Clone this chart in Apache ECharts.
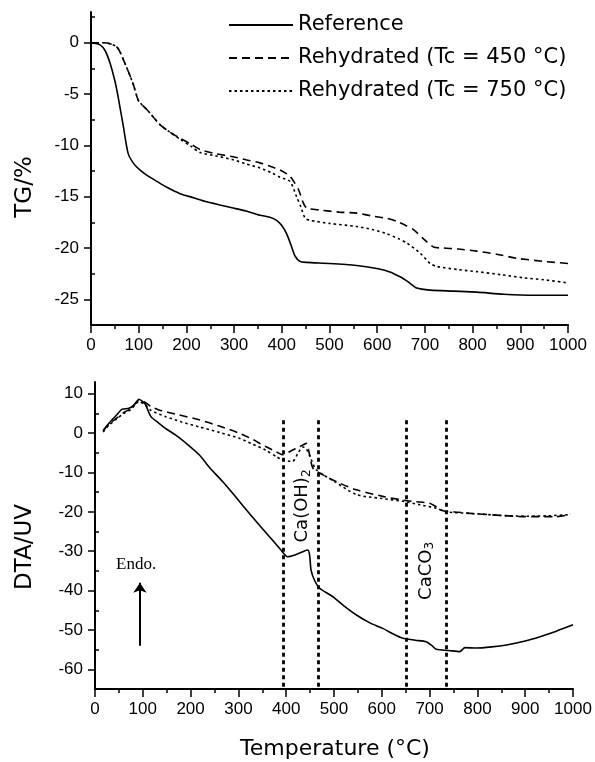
<!DOCTYPE html>
<html lang="en">
<head>
    <meta charset="UTF-8">
    <title>TG / DTA</title>
    <script src="https://cdn.jsdelivr.net/npm/echarts@6.0.0/dist/echarts.min.js"></script>
</head>
<body style="margin:0;background:#fff">
<div id="main" style="width: 595px;height: 762px"></div>
<script>
    // legend names
    var names = ['Reference', 'Rehydrated (Tc = 450 °C)', 'Rehydrated (Tc = 750 °C)'];

    // TG curves, [temperature, TG %]
    var tgRef = [[0, 0], [19, -0.2], [30, -0.8], [40, -2], [50, -3.7], [57, -5.3], [68, -8.2], [78, -10.8], [90, -11.8], [103, -12.4],
        [120, -13.0], [138, -13.5], [160, -14.1], [187, -14.7], [215, -15.1], [243, -15.5], [270, -15.8], [298, -16.1], [325, -16.4],
        [354, -16.8], [375, -17.0], [389, -17.3], [400, -17.8], [410, -18.6], [420, -19.8], [428, -20.8], [438, -21.3], [452, -21.4],
        [500, -21.5], [557, -21.7], [599, -22.0], [625, -22.3], [648, -22.8], [665, -23.3], [683, -23.9], [711, -24.1], [760, -24.2],
        [809, -24.3], [865, -24.5], [930, -24.6], [1000, -24.6]];
    var tg450 = [[0, 0], [12, 0], [25, 0], [40, -0.1], [54, -0.4], [62, -1], [71, -2], [80, -3], [89, -4.1], [99, -5.6], [108, -6.1],
        [117, -6.5], [130, -7.2], [145, -8.0], [165, -8.7], [187, -9.3], [210, -9.9], [229, -10.4], [260, -10.8], [298, -11.1],
        [325, -11.4], [354, -11.7], [380, -12.1], [396, -12.4], [408, -12.7], [417, -13.0], [425, -13.5], [435, -14.3], [445, -15.6],
        [452, -16.1], [480, -16.3], [520, -16.5], [557, -16.6], [592, -16.9], [620, -17.1], [641, -17.4], [660, -17.8], [676, -18.2],
        [697, -19.1], [718, -19.9], [739, -20.0], [770, -20.1], [809, -20.3], [850, -20.6], [893, -21.0], [949, -21.3], [1000, -21.5]];
    var tg750 = [[0, 0], [12, 0], [25, 0], [40, -0.1], [54, -0.4], [62, -1], [71, -2], [80, -3], [89, -4.1], [99, -5.6], [108, -6.1],
        [117, -6.5], [130, -7.2], [145, -8.0], [165, -8.7], [187, -9.4], [210, -10.1], [229, -10.7], [260, -11.0], [298, -11.4],
        [325, -11.8], [354, -12.2], [380, -12.7], [396, -13.1], [417, -13.5], [431, -15.0], [440, -16.0], [449, -17.1], [459, -17.3],
        [500, -17.6], [557, -17.9], [590, -18.2], [620, -18.6], [645, -19.1], [662, -19.5], [690, -20.5], [711, -21.5], [725, -21.8],
        [770, -22.1], [809, -22.3], [860, -22.6], [906, -22.9], [950, -23.1], [1000, -23.4]];

    // DTA curves, [temperature, DTA uV]
    var dtaRef = [[17, 0.6], [29, 2.5], [45, 4.6], [57, 6.1], [71, 6.3], [82, 7.2], [92, 8.6], [100, 8.0], [106, 7.2], [117, 4.2],
        [134, 2.5], [150, 1.0], [169, -0.5], [190, -2.5], [218, -5.5], [240, -8.8], [267, -12.3], [295, -16.3], [323, -20.4],
        [345, -23.5], [365, -26.3], [380, -28.4], [389, -29.7], [403, -31.4], [415, -31.1], [435, -30.1], [445, -29.7], [449, -31],
        [452, -34.8], [459, -37.3], [470, -39.4], [497, -41.5], [520, -43.8], [547, -46.2], [575, -48.2], [602, -49.6], [625, -51.1],
        [644, -52.1], [670, -52.6], [693, -53.0], [705, -54.0], [714, -54.9], [740, -55.2], [763, -55.5], [774, -54.5], [798, -54.6],
        [830, -54.3], [861, -53.8], [900, -52.8], [931, -51.7], [965, -50.3], [1000, -48.7]];
    var dta450 = [[17, 0.6], [29, 2.3], [45, 3.8], [60, 5.2], [75, 6.3], [92, 8.3], [105, 7.8], [117, 6.8], [134, 5.9], [170, 4.8],
        [218, 3.4], [260, 1.8], [302, 0], [330, -1.6], [357, -3.4], [380, -4.8], [392, -5.5], [407, -4.7], [425, -3.6], [435, -3.0],
        [442, -2.6], [449, -5.5], [456, -8.9], [477, -10.6], [510, -12.6], [547, -14.4], [600, -16.0], [644, -17.0], [670, -17.4],
        [700, -17.8], [715, -18.8], [728, -19.7], [760, -20.1], [798, -20.5], [850, -20.9], [895, -21.2], [965, -21.2], [985, -20.9],
        [994, -20.5]];
    var dta750 = [[17, 0.3], [29, 2.0], [45, 3.6], [60, 5.0], [75, 6.0], [92, 8.0], [105, 7.2], [117, 5.8], [148, 4.2], [180, 2.9],
        [218, 1.6], [260, 0.2], [302, -1.3], [330, -2.8], [357, -4.3], [380, -6.0], [392, -6.8], [413, -7.2], [425, -5], [435, -3.5],
        [442, -4.0], [450, -6.0], [463, -9.3], [500, -12.2], [547, -15.6], [600, -16.6], [644, -17.3], [680, -18.2], [714, -19.1],
        [735, -20.0], [770, -20.3], [800, -20.5], [850, -20.9], [900, -21.1], [950, -21.0], [990, -20.7]];

    // tick values
    var tgMajor = [-25, -20, -15, -10, -5, 0];
    var tgMinor = [-22.5, -17.5, -12.5, -7.5, -2.5, 2.5];
    var dtaMajor = [-60, -50, -40, -30, -20, -10, 0, 10];
    var dtaMinor = [-55, -45, -35, -25, -15, -5, 5];

    // peak markers (Ca(OH)2, CaCO3) and the Endo. arrow
    var peakLines = [393, 468, 652, 735];
    var endoArrow = [94, -54, -38];

    var container = document.getElementById('main');
    var myChart = echarts.init(container);

    var labelFont = {color: '#000', fontSize: 17, fontFamily: 'Liberation Sans'};
    var dashes = ['solid', [8, 5], [2.5, 3]];

    function plain(v) {
        return String(v);
    }

    function xAxis(gridIndex) {
        return {
            type: 'value', gridIndex: gridIndex, min: 0, max: 1000, interval: 100,
            axisLine: {onZero: false, lineStyle: {color: '#000', width: 2}},
            axisTick: {length: 8, lineStyle: {color: '#000', width: 1.5}},
            minorTick: {show: true, splitNumber: 2, length: 4, lineStyle: {color: '#000', width: 1.5}},
            axisLabel: Object.assign({margin: 12, formatter: plain}, labelFont),
            splitLine: {show: false}
        };
    }

    function yAxes(gridIndex, min, max, major, minor) {
        return [{
            type: 'value', gridIndex: gridIndex, min: min, max: max,
            axisLine: {onZero: false, lineStyle: {color: '#000', width: 2}},
            axisTick: {length: 7, customValues: major, lineStyle: {color: '#000', width: 1.5}},
            axisLabel: Object.assign({margin: 12, customValues: major, formatter: plain}, labelFont),
            splitLine: {show: false}
        }, {
            type: 'value', gridIndex: gridIndex, min: min, max: max,
            axisLine: {show: false},
            axisTick: {length: 4, customValues: minor, lineStyle: {color: '#000', width: 1.5}},
            axisLabel: {show: false},
            splitLine: {show: false}
        }];
    }

    function curve(name, data, k, xi, yi) {
        return {
            name: name, type: 'line', data: data, xAxisIndex: xi, yAxisIndex: yi,
            showSymbol: false, symbol: 'none', smooth: 0.25,
            lineStyle: {color: '#000', width: 1.6, type: dashes[k]},
            itemStyle: {color: '#000'}
        };
    }

    var ys = yAxes(0, -27.5, 3, tgMajor, tgMinor).concat(yAxes(1, -65, 13, dtaMajor, dtaMinor));

    var series = [
        curve(names[0], tgRef, 0, 0, 0),
        curve(names[1], tg450, 1, 0, 0),
        curve(names[2], tg750, 2, 0, 0),
        curve(names[0], dtaRef, 0, 1, 2),
        curve(names[1], dta450, 1, 1, 2),
        curve(names[2], dta750, 2, 1, 2)
    ];

    // vertical dotted lines
    series[4].markLine = {
        silent: true, symbol: 'none', animation: false,
        label: {show: false},
        lineStyle: {color: '#000', width: 2.8, type: [4, 3.5]},
        data: peakLines.map(function (t) {
            return [{coord: [t, 3.3]}, {coord: [t, -65]}];
        })
    };
    // Endo. arrow
    series[3].markLine = {
        silent: true, symbol: ['none', 'arrow'], symbolSize: 10, animation: false,
        label: {show: false},
        lineStyle: {color: '#000', width: 2, type: 'solid'},
        data: [[{coord: [endoArrow[0], endoArrow[1]]}, {coord: [endoArrow[0], endoArrow[2]]}]]
    };
    var richSub = {
        a: {color: '#000', fontSize: 18, fontFamily: 'DejaVu Sans', lineHeight: 20},
        s: {color: '#000', fontSize: 12, fontFamily: 'DejaVu Sans', lineHeight: 12, verticalAlign: 'bottom'}
    };
    series[3].markPoint = {
        silent: true, symbolSize: 0, animation: false,
        data: [
            {coord: [86, -33.5], label: {show: true, formatter: 'Endo.', color: '#000', fontSize: 17, fontFamily: 'Liberation Serif'}},
            {coord: [434, -18.5], label: {show: true, rotate: 90, formatter: '{a|Ca(OH)}{s|2}', rich: richSub}},
            {coord: [693, -35], label: {show: true, rotate: 90, formatter: '{a|CaCO}{s|3}', rich: richSub}}
        ]
    };

    var titleFont = {fill: '#000', fontSize: 23, fontFamily: 'DejaVu Sans', textAlign: 'center', textVerticalAlign: 'middle'};

    var option = {
        animation: false,
        backgroundColor: '#fff',
        grid: [
            {left: 91, top: 12, width: 477, height: 313},
            {left: 95, top: 382, width: 478, height: 307}
        ],
        legend: {
            data: names, orient: 'vertical', left: 223, top: 9,
            itemWidth: 64, itemHeight: 14, itemGap: 11, selectedMode: false,
            itemStyle: {opacity: 0},
            textStyle: {color: '#000', fontSize: 21, fontFamily: 'DejaVu Sans', lineHeight: 22, padding: [0, 0, 0, 0]}
        },
        xAxis: [xAxis(0), xAxis(1)],
        yAxis: ys,
        graphic: [
            {type: 'text', x: 25, y: 187, rotation: Math.PI / 2, style: Object.assign({text: 'TG/%'}, titleFont)},
            {type: 'text', x: 25, y: 547, rotation: Math.PI / 2, style: Object.assign({text: 'DTA/UV'}, titleFont)},
            {type: 'text', x: 335, y: 749, style: Object.assign({text: 'Temperature (°C)'}, titleFont, {fontSize: 22})}
        ],
        series: series
    };

    myChart.setOption(option);
</script>
</body>
</html>
